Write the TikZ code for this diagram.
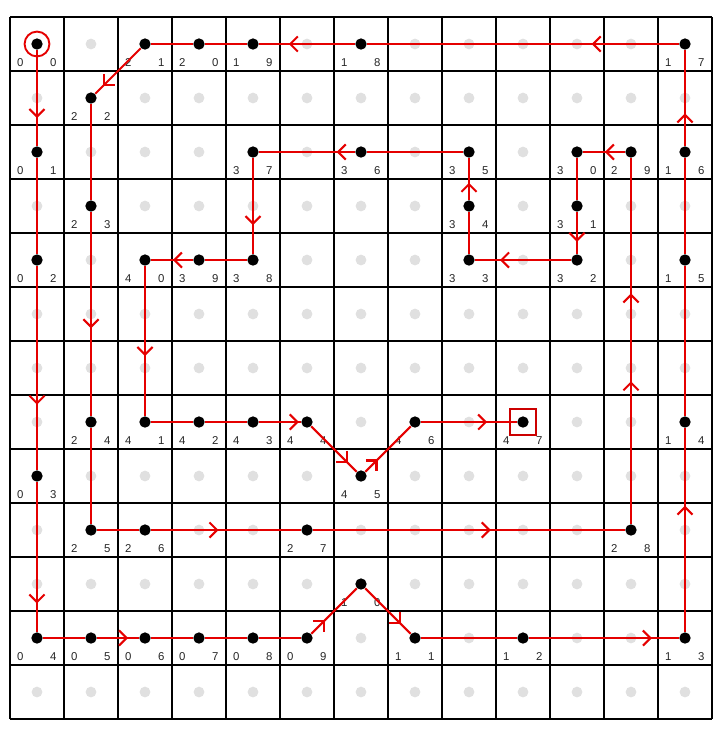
\documentclass[tikz,border=0pt]{standalone}
\usepackage{fontspec}
\setmainfont{Liberation Sans}
\usetikzlibrary{arrows.meta,decorations.markings}

\begin{document}
\begin{tikzpicture}[
            gridline/.style={draw=black, line width=0.6pt},
            ghost/.style={circle, fill=black!12, inner sep=0pt, minimum size=0.2cm},
            dot/.style={circle, fill=black, inner sep=0pt, minimum size=0.21cm},
            digit/.style={font=\fontsize{6}{7}\selectfont, text=black!85, inner sep=0pt},
            num/.style 2 args={label={[digit, xshift=-0.31cm, yshift=-0.35cm]center:#1},
                    label={[digit, xshift=0.3cm, yshift=-0.35cm]center:#2}},
            link/.style={draw=red!90!black, line width=1.1pt},
            barb/.tip={Straight Barb[length=4pt, width=8pt]},
            arrow/.style={link, postaction={decorate},
                    decoration={markings, mark=at position #1 with {\arrow{barb}}}},
            arrowtwo/.style 2 args={link, postaction={decorate},
                    decoration={markings, mark=at position #1 with {\arrow{barb}},
                        mark=at position #2 with {\arrow{barb}}}},
            start/.style={circle, draw=red!90!black, line width=1pt, minimum size=0.46cm},
            goal/.style={rectangle, draw=red!80!black, line width=1pt, minimum size=0.48cm}
        ]
        \useasboundingbox (-0.185,0.315) rectangle (13.241,-13.444);

        % board
        \draw[gridline] (0,0) grid (13,-13);
        \foreach \c in {0,...,12}
            \foreach \r in {0,...,12}
                \node[ghost] (g\c-\r) at (\c+0.5,-\r-0.5) {};

        % visited cells
        \node[dot, num={0}{0}] (s00) at (0.5,-0.5) {};
        \node[dot, num={0}{1}] (s01) at (0.5,-2.5) {};
        \node[dot, num={0}{2}] (s02) at (0.5,-4.5) {};
        \node[dot, num={0}{3}] (s03) at (0.5,-8.5) {};
        \node[dot, num={0}{4}] (s04) at (0.5,-11.5) {};
        \node[dot, num={0}{5}] (s05) at (1.5,-11.5) {};
        \node[dot, num={0}{6}] (s06) at (2.5,-11.5) {};
        \node[dot, num={0}{7}] (s07) at (3.5,-11.5) {};
        \node[dot, num={0}{8}] (s08) at (4.5,-11.5) {};
        \node[dot, num={0}{9}] (s09) at (5.5,-11.5) {};
        \node[dot, num={1}{0}] (s10) at (6.5,-10.5) {};
        \node[dot, num={1}{1}] (s11) at (7.5,-11.5) {};
        \node[dot, num={1}{2}] (s12) at (9.5,-11.5) {};
        \node[dot, num={1}{3}] (s13) at (12.5,-11.5) {};
        \node[dot, num={1}{4}] (s14) at (12.5,-7.5) {};
        \node[dot, num={1}{5}] (s15) at (12.5,-4.5) {};
        \node[dot, num={1}{6}] (s16) at (12.5,-2.5) {};
        \node[dot, num={1}{7}] (s17) at (12.5,-0.5) {};
        \node[dot, num={1}{8}] (s18) at (6.5,-0.5) {};
        \node[dot, num={1}{9}] (s19) at (4.5,-0.5) {};
        \node[dot, num={2}{0}] (s20) at (3.5,-0.5) {};
        \node[dot, num={2}{1}] (s21) at (2.5,-0.5) {};
        \node[dot, num={2}{2}] (s22) at (1.5,-1.5) {};
        \node[dot, num={2}{3}] (s23) at (1.5,-3.5) {};
        \node[dot, num={2}{4}] (s24) at (1.5,-7.5) {};
        \node[dot, num={2}{5}] (s25) at (1.5,-9.5) {};
        \node[dot, num={2}{6}] (s26) at (2.5,-9.5) {};
        \node[dot, num={2}{7}] (s27) at (5.5,-9.5) {};
        \node[dot, num={2}{8}] (s28) at (11.5,-9.5) {};
        \node[dot, num={2}{9}] (s29) at (11.5,-2.5) {};
        \node[dot, num={3}{0}] (s30) at (10.5,-2.5) {};
        \node[dot, num={3}{1}] (s31) at (10.5,-3.5) {};
        \node[dot, num={3}{2}] (s32) at (10.5,-4.5) {};
        \node[dot, num={3}{3}] (s33) at (8.5,-4.5) {};
        \node[dot, num={3}{4}] (s34) at (8.5,-3.5) {};
        \node[dot, num={3}{5}] (s35) at (8.5,-2.5) {};
        \node[dot, num={3}{6}] (s36) at (6.5,-2.5) {};
        \node[dot, num={3}{7}] (s37) at (4.5,-2.5) {};
        \node[dot, num={3}{8}] (s38) at (4.5,-4.5) {};
        \node[dot, num={3}{9}] (s39) at (3.5,-4.5) {};
        \node[dot, num={4}{0}] (s40) at (2.5,-4.5) {};
        \node[dot, num={4}{1}] (s41) at (2.5,-7.5) {};
        \node[dot, num={4}{2}] (s42) at (3.5,-7.5) {};
        \node[dot, num={4}{3}] (s43) at (4.5,-7.5) {};
        \node[dot, num={4}{4}] (s44) at (5.5,-7.5) {};
        \node[dot, num={4}{5}] (s45) at (6.5,-8.5) {};
        \node[dot, num={4}{6}] (s46) at (7.5,-7.5) {};
        \node[dot, num={4}{7}] (s47) at (9.5,-7.5) {};

        \node[start] (ring) at (s00) {};
        \node[goal] (frame) at (s47) {};

        % route
        \draw[arrow=0.71] (s00) -- (s01);
        \draw[link] (s01) -- (s02);
        \draw[arrow=0.68] (s02) -- (s03);
        \draw[arrow=0.81] (s03) -- (s04);
        \draw[link] (s04) -- (s05);
        \draw[arrow=0.74] (s05) -- (s06);
        \draw[link] (s06) -- (s07);
        \draw[link] (s07) -- (s08);
        \draw[link] (s08) -- (s09);
        \draw[arrow=0.30] (s09) -- (s10);
        \draw[arrow=0.78] (s10) -- (s11);
        \draw[link] (s11) -- (s12);
        \draw[arrow=0.82] (s12) -- (s13);
        \draw[arrow=0.62] (s13) -- (s14);
        \draw[link] (s14) -- (s15);
        \draw[link] (s15) -- (s16);
        \draw[arrow=0.34] (s16) -- (s17);
        \draw[arrow=0.28] (s17) -- (s18);
        \draw[arrow=0.69] (s18) -- (s19);
        \draw[link] (s19) -- (s20);
        \draw[link] (s20) -- (s21);
        \draw[arrow=0.83] (s21) -- (s22);
        \draw[link] (s22) -- (s23);
        \draw[arrow=0.57] (s23) -- (s24);
        \draw[link] (s24) -- (s25);
        \draw[link] (s25) -- (s26);
        \draw[arrow=0.45] (s26) -- (s27);
        \draw[arrow=0.57] (s27) -- (s28);
        \draw[arrowtwo={0.39}{0.63}] (s28) -- (s29);
        \draw[arrow=0.48] (s29) -- (s30);
        \draw[link] (s30) -- (s31);
        \draw[arrow=0.71] (s31) -- (s32);
        \draw[arrow=0.74] (s32) -- (s33);
        \draw[link] (s33) -- (s34);
        \draw[arrow=0.41] (s34) -- (s35);
        \draw[link] (s35) -- (s36);
        \draw[arrow=0.19] (s36) -- (s37);
        \draw[arrow=0.70] (s37) -- (s38);
        \draw[link] (s38) -- (s39);
        \draw[arrow=0.48] (s39) -- (s40);
        \draw[arrow=0.60] (s40) -- (s41);
        \draw[link] (s41) -- (s42);
        \draw[link] (s42) -- (s43);
        \draw[arrow=0.95] (s43) -- (s44);
        \draw[arrow=0.80] (s44) -- (s45);
        \draw[arrow=0.27] (s45) -- (s46);
        \draw[arrow=0.69] (s46) -- (s47);
    \end{tikzpicture}
\end{document}
